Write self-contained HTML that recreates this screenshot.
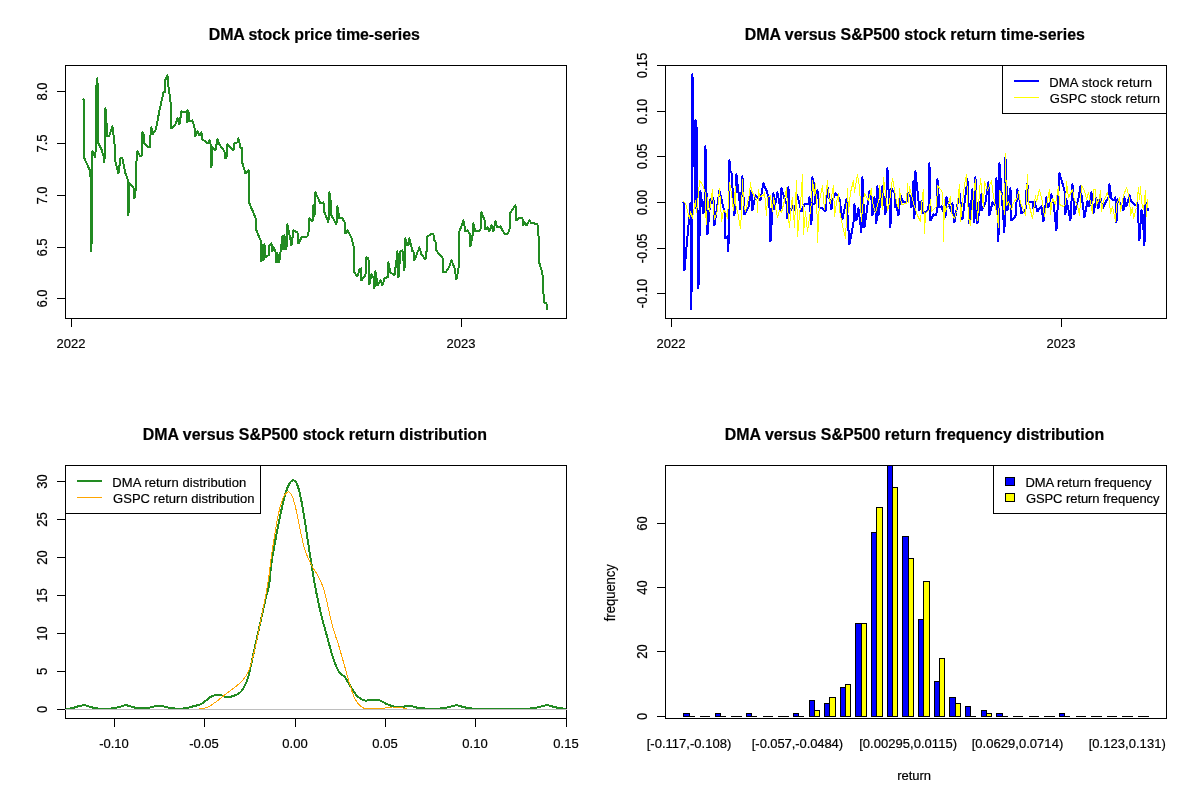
<!DOCTYPE html>
<html><head><meta charset="utf-8"><title>DMA versus S&amp;P500</title>
<style>
html,body{margin:0;padding:0;background:#fff;}
svg{display:block;font-family:"Liberation Sans",sans-serif;}
svg line, svg rect, svg polyline{shape-rendering:crispEdges;}
svg text{fill:#000;stroke:#000;stroke-width:0.2px;}
</style></head><body>
<svg width="1200" height="800" viewBox="0 0 1200 800">
<rect x="0" y="0" width="1200" height="800" fill="#fff" stroke="none"/>
<g id="p1">
<text x="208.7" y="39.5" text-anchor="start" font-size="15.94" font-weight="bold" textLength="211.14" lengthAdjust="spacing">DMA stock price time-series</text>
<polyline fill="none" stroke="#228B22" stroke-width="2" stroke-linejoin="round" stroke-linecap="round" points="83.45,99.45 84.45,100.45 84.45,158.45 89.45,169.45 90.45,171.45 91.45,251.45 92.45,151.45 95.45,157.45 96.45,85.45 97.45,78.45 98.45,143.45 101.45,149.45 103.45,155.45 104.45,162.45 105.45,112.45 105.45,108.45 107.45,136.45 109.45,135.45 112.45,126.45 114.45,142.45 115.45,161.45 118.45,173.45 120.45,158.45 122.45,158.45 125.45,173.45 127.45,178.45 128.45,189.45 128.45,215.45 129.45,183.45 133.45,187.45 134.45,198.45 136.45,184.45 136.45,161.45 137.45,151.45 140.45,156.45 142.45,154.45 142.45,132.45 143.45,133.45 144.45,143.45 148.45,147.45 150.45,147.45 150.45,135.45 151.45,127.45 152.45,134.45 155.45,130.45 157.45,121.45 159.45,110.45 163.45,92.45 165.45,91.45 165.45,79.45 167.45,75.45 168.45,86.45 170.45,100.45 171.45,128.45 175.45,124.45 177.45,118.45 179.45,124.45 181.45,111.45 184.45,112.45 187.45,110.45 187.45,122.45 188.45,111.45 189.45,121.45 192.45,120.45 194.45,127.45 195.45,136.45 197.45,131.45 199.45,135.45 201.45,132.45 202.45,139.45 206.45,142.45 207.45,143.45 209.45,140.45 211.45,146.45 211.45,167.45 212.45,147.45 215.45,150.45 217.45,139.45 219.45,144.45 224.45,151.45 225.45,158.45 226.45,157.45 227.45,144.45 230.45,147.45 233.45,150.45 234.45,143.45 237.45,142.45 238.45,138.45 240.45,147.45 242.45,148.45 242.45,163.45 245.45,173.45 248.45,170.45 249.45,173.45 249.45,203.45 255.45,217.45 256.45,230.45 261.45,242.45 261.45,261.45 262.45,245.45 263.45,260.45 264.45,244.45 265.45,257.45 269.45,254.45 269.45,245.45 271.45,243.45 272.45,251.45 273.45,247.45 275.45,251.45 276.45,262.45 277.45,253.45 278.45,262.45 279.45,260.45 280.45,252.45 282.45,236.45 283.45,249.45 284.45,235.45 285.45,249.45 286.45,248.45 287.45,224.45 289.45,234.45 291.45,245.45 293.45,230.45 297.45,232.45 298.45,243.45 301.45,237.45 307.45,236.45 308.45,233.45 309.45,218.45 312.45,221.45 313.45,205.45 314.45,216.45 315.45,192.45 320.45,203.45 323.45,202.45 324.45,212.45 328.45,222.45 329.45,192.45 331.45,207.45 331.45,215.45 336.45,224.45 337.45,206.45 339.45,218.45 342.45,218.45 345.45,223.45 345.45,233.45 347.45,230.45 351.45,237.45 353.45,245.45 354.45,257.45 354.45,272.45 357.45,276.45 359.45,269.45 361.45,268.45 361.45,280.45 365.45,275.45 366.45,257.45 368.45,258.45 369.45,284.45 371.45,274.45 373.45,277.45 374.45,288.45 375.45,271.45 377.45,284.45 377.45,285.45 380.45,280.45 382.45,285.45 384.45,278.45 388.45,276.45 388.45,262.45 390.45,272.45 394.45,275.45 396.45,260.45 397.45,251.45 398.45,277.45 400.45,251.45 402.45,250.45 404.45,270.45 405.45,238.45 407.45,245.45 409.45,243.45 409.45,238.45 412.45,251.45 413.45,251.45 414.45,260.45 417.45,252.45 419.45,247.45 421.45,254.45 425.45,259.45 426.45,252.45 427.45,236.45 430.45,234.45 433.45,234.45 434.45,240.45 436.45,243.45 436.45,250.45 439.45,254.45 442.45,257.45 443.45,272.45 445.45,272.45 449.45,266.45 451.45,260.45 454.45,267.45 456.45,279.45 458.45,269.45 459.45,252.45 459.45,231.45 463.45,220.45 465.45,231.45 467.45,230.45 470.45,234.45 470.45,246.45 472.45,236.45 473.45,223.45 475.45,231.45 480.45,230.45 481.45,212.45 484.45,219.45 485.45,229.45 487.45,227.45 489.45,231.45 491.45,225.45 493.45,231.45 495.45,221.45 497.45,227.45 500.45,226.45 502.45,230.45 505.45,234.45 507.45,233.45 509.45,230.45 510.45,212.45 515.45,205.45 516.45,220.45 518.45,218.45 522.45,218.45 523.45,225.45 524.45,222.45 526.45,225.45 529.45,220.45 531.45,223.45 534.45,223.45 537.45,224.45 538.45,234.45 539.45,263.45 542.45,273.45 543.45,293.45 544.45,302.45 546.45,303.45 547.45,309.45"/>
<rect x="65.5" y="65.5" width="501" height="253" fill="none" stroke="#000"/>
<line x1="65.5" y1="91.5" x2="65.5" y2="298.5" stroke="#000" stroke-width="1"/>
<line x1="57.0" y1="91.5" x2="65.5" y2="91.5" stroke="#000" stroke-width="1"/>
<text x="47" y="91.5" text-anchor="middle" font-size="14.8" transform="rotate(-90 47 91.5)" textLength="18.07" lengthAdjust="spacingAndGlyphs">8.0</text>
<line x1="57.0" y1="143.5" x2="65.5" y2="143.5" stroke="#000" stroke-width="1"/>
<text x="47" y="143.5" text-anchor="middle" font-size="14.8" transform="rotate(-90 47 143.5)" textLength="18.07" lengthAdjust="spacingAndGlyphs">7.5</text>
<line x1="57.0" y1="195.5" x2="65.5" y2="195.5" stroke="#000" stroke-width="1"/>
<text x="47" y="195.5" text-anchor="middle" font-size="14.8" transform="rotate(-90 47 195.5)" textLength="18.07" lengthAdjust="spacingAndGlyphs">7.0</text>
<line x1="57.0" y1="247.5" x2="65.5" y2="247.5" stroke="#000" stroke-width="1"/>
<text x="47" y="247.5" text-anchor="middle" font-size="14.8" transform="rotate(-90 47 247.5)" textLength="18.07" lengthAdjust="spacingAndGlyphs">6.5</text>
<line x1="57.0" y1="298.5" x2="65.5" y2="298.5" stroke="#000" stroke-width="1"/>
<text x="47" y="298.5" text-anchor="middle" font-size="14.8" transform="rotate(-90 47 298.5)" textLength="18.07" lengthAdjust="spacingAndGlyphs">6.0</text>
<line x1="71.5" y1="318.5" x2="461.5" y2="318.5" stroke="#000" stroke-width="1"/>
<line x1="71.5" y1="318.5" x2="71.5" y2="327.0" stroke="#000" stroke-width="1"/>
<text x="71.0" y="348" text-anchor="middle" font-size="13">2022</text>
<line x1="461.5" y1="318.5" x2="461.5" y2="327.0" stroke="#000" stroke-width="1"/>
<text x="461.0" y="348" text-anchor="middle" font-size="13">2023</text>
</g>
<g id="p2">
<text x="744.67" y="39.5" text-anchor="start" font-size="15.94" font-weight="bold" textLength="340.2" lengthAdjust="spacing">DMA versus S&amp;P500 stock return time-series</text>
<polyline fill="none" stroke="#0000FF" stroke-width="2" stroke-linejoin="round" stroke-linecap="round" points="683.45,202.45 684.45,203.45 684.45,270.45 690.45,203.45 691.45,309.45 692.45,74.45 695.45,208.45 695.45,120.45 696.45,121.45 698.45,288.45 700.45,191.45 703.45,213.45 705.45,190.45 705.45,146.45 707.45,234.45 710.45,199.45 712.45,203.45 713.45,198.45 714.45,225.45 719.45,190.45 722.45,203.45 725.45,215.45 725.45,238.45 727.45,236.45 728.45,251.45 729.45,160.45 730.45,172.45 731.45,172.45 734.45,215.45 736.45,174.45 740.45,209.45 742.45,176.45 744.45,214.45 748.45,207.45 751.45,190.45 752.45,210.45 755.45,195.45 758.45,198.45 760.45,200.45 762.45,188.45 763.45,183.45 766.45,190.45 768.45,196.45 769.45,205.45 770.45,241.45 773.45,193.45 774.45,209.45 777.45,192.45 779.45,203.45 780.45,210.45 781.45,188.45 784.45,198.45 786.45,203.45 787.45,218.45 788.45,187.45 789.45,213.45 792.45,206.45 794.45,210.45 797.45,195.45 801.45,211.45 804.45,204.45 808.45,204.45 809.45,197.45 811.45,224.45 812.45,177.45 815.45,189.45 814.45,204.45 817.45,190.45 819.45,207.45 822.45,208.45 825.45,211.45 827.45,186.45 829.45,198.45 831.45,209.45 832.45,200.45 835.45,193.45 839.45,198.45 842.45,219.45 846.45,199.45 849.45,244.45 853.45,223.45 854.45,204.45 856.45,220.45 858.45,208.45 861.45,232.45 862.45,177.45 864.45,227.45 869.45,191.45 871.45,198.45 872.45,215.45 874.45,197.45 876.45,223.45 877.45,186.45 878.45,215.45 882.45,186.45 885.45,214.45 887.45,168.45 890.45,227.45 891.45,188.45 894.45,192.45 895.45,207.45 896.45,205.45 898.45,215.45 900.45,195.45 903.45,202.45 906.45,202.45 908.45,193.45 911.45,197.45 911.45,207.45 913.45,181.45 914.45,218.45 915.45,171.45 918.45,200.45 919.45,210.45 921.45,201.45 923.45,213.45 928.45,209.45 929.45,163.45 930.45,220.45 933.45,214.45 936.45,215.45 937.45,179.45 939.45,207.45 941.45,206.45 945.45,217.45 946.45,197.45 949.45,206.45 951.45,211.45 952.45,203.45 954.45,222.45 959.45,192.45 962.45,219.45 967.45,179.45 969.45,223.45 972.45,189.45 974.45,222.45 975.45,177.45 977.45,223.45 981.45,194.45 981.45,210.45 985.45,202.45 988.45,182.45 989.45,215.45 992.45,202.45 995.45,205.45 996.45,178.45 998.45,241.45 999.45,163.45 1004.45,232.45 1005.45,157.45 1007.45,210.45 1010.45,188.45 1011.45,220.45 1015.45,216.45 1017.45,189.45 1019.45,199.45 1021.45,213.45 1025.45,210.45 1026.45,190.45 1027.45,183.45 1028.45,201.45 1032.45,202.45 1033.45,208.45 1034.45,201.45 1037.45,211.45 1041.45,206.45 1043.45,221.45 1046.45,197.45 1048.45,207.45 1051.45,194.45 1053.45,202.45 1056.45,230.45 1059.45,173.45 1062.45,183.45 1064.45,189.45 1065.45,214.45 1066.45,199.45 1070.45,220.45 1072.45,184.45 1074.45,214.45 1078.45,198.45 1080.45,186.45 1084.45,217.45 1087.45,201.45 1089.45,206.45 1091.45,192.45 1093.45,213.45 1096.45,198.45 1098.45,208.45 1100.45,197.45 1102.45,208.45 1106.45,200.45 1108.45,198.45 1109.45,184.45 1111.45,198.45 1113.45,200.45 1115.45,197.45 1116.45,222.45 1117.45,199.45 1121.45,205.45 1123.45,210.45 1124.45,197.45 1126.45,206.45 1129.45,195.45 1131.45,201.45 1135.45,205.45 1137.45,202.45 1139.45,240.45 1141.45,210.45 1142.45,213.45 1144.45,245.45 1145.45,202.45 1148.45,210.45"/>
<polyline fill="none" stroke="#FFFF00" stroke-width="1" stroke-linejoin="round" points="683.5,201.5 685.5,203.5 689.5,218.5 690.5,211.5 692.5,218.5 694.5,206.5 695.5,200.5 696.5,212.5 698.5,193.5 699.5,180.5 702.5,184.5 705.5,193.5 705.5,210.5 706.5,224.5 707.5,197.5 709.5,211.5 711.5,197.5 712.5,189.5 713.5,209.5 714.5,219.5 717.5,210.5 719.5,188.5 720.5,202.5 721.5,221.5 723.5,210.5 725.5,211.5 727.5,218.5 728.5,200.5 729.5,182.5 731.5,193.5 732.5,202.5 733.5,210.5 735.5,186.5 735.5,204.5 737.5,211.5 740.5,228.5 741.5,211.5 742.5,179.5 743.5,204.5 745.5,211.5 749.5,193.5 750.5,182.5 751.5,190.5 754.5,196.5 757.5,201.5 757.5,212.5 758.5,189.5 759.5,196.5 763.5,195.5 764.5,192.5 766.5,215.5 767.5,197.5 770.5,195.5 772.5,211.5 773.5,197.5 777.5,217.5 779.5,210.5 781.5,212.5 784.5,200.5 786.5,187.5 787.5,207.5 789.5,227.5 791.5,202.5 792.5,197.5 794.5,227.5 796.5,180.5 797.5,236.5 800.5,204.5 802.5,174.5 803.5,234.5 805.5,211.5 807.5,231.5 809.5,217.5 811.5,202.5 812.5,180.5 814.5,195.5 815.5,183.5 817.5,223.5 817.5,242.5 819.5,200.5 822.5,185.5 824.5,209.5 827.5,180.5 828.5,196.5 830.5,203.5 833.5,185.5 834.5,216.5 836.5,202.5 838.5,193.5 839.5,210.5 842.5,225.5 845.5,238.5 846.5,217.5 847.5,188.5 848.5,212.5 850.5,192.5 853.5,180.5 854.5,192.5 857.5,174.5 859.5,187.5 861.5,221.5 862.5,207.5 864.5,193.5 865.5,195.5 868.5,200.5 871.5,188.5 872.5,202.5 875.5,212.5 879.5,197.5 879.5,185.5 882.5,209.5 883.5,177.5 885.5,193.5 887.5,210.5 889.5,202.5 892.5,178.5 894.5,189.5 896.5,202.5 898.5,208.5 899.5,188.5 901.5,204.5 906.5,203.5 907.5,183.5 908.5,202.5 909.5,186.5 911.5,195.5 914.5,206.5 917.5,215.5 920.5,221.5 922.5,194.5 923.5,189.5 924.5,233.5 925.5,213.5 929.5,209.5 930.5,199.5 931.5,211.5 936.5,206.5 937.5,185.5 940.5,189.5 942.5,192.5 943.5,217.5 943.5,241.5 944.5,199.5 945.5,211.5 948.5,204.5 950.5,196.5 951.5,213.5 954.5,218.5 956.5,211.5 959.5,184.5 960.5,221.5 963.5,193.5 964.5,184.5 966.5,174.5 968.5,217.5 970.5,225.5 973.5,194.5 975.5,179.5 977.5,220.5 980.5,178.5 983.5,207.5 984.5,181.5 987.5,190.5 991.5,180.5 993.5,196.5 997.5,217.5 998.5,227.5 999.5,190.5 1002.5,195.5 1004.5,214.5 1005.5,153.5 1006.5,205.5 1008.5,201.5 1011.5,209.5 1013.5,202.5 1017.5,197.5 1018.5,191.5 1020.5,202.5 1025.5,215.5 1027.5,174.5 1028.5,202.5 1032.5,218.5 1035.5,195.5 1036.5,201.5 1039.5,189.5 1042.5,202.5 1044.5,216.5 1049.5,189.5 1050.5,214.5 1052.5,198.5 1055.5,204.5 1058.5,186.5 1059.5,204.5 1063.5,206.5 1065.5,204.5 1066.5,181.5 1068.5,197.5 1070.5,193.5 1072.5,189.5 1074.5,200.5 1077.5,205.5 1079.5,215.5 1081.5,185.5 1084.5,190.5 1086.5,199.5 1088.5,192.5 1090.5,202.5 1092.5,213.5 1093.5,189.5 1095.5,189.5 1096.5,205.5 1099.5,197.5 1100.5,190.5 1101.5,211.5 1103.5,201.5 1107.5,192.5 1109.5,202.5 1110.5,213.5 1112.5,206.5 1115.5,221.5 1116.5,204.5 1119.5,197.5 1120.5,211.5 1123.5,195.5 1126.5,187.5 1129.5,198.5 1130.5,215.5 1132.5,207.5 1133.5,218.5 1136.5,207.5 1138.5,187.5 1139.5,199.5 1140.5,186.5 1141.5,202.5 1143.5,209.5 1145.5,190.5 1146.5,216.5 1147.5,199.5"/>
<rect x="665.5" y="65.5" width="501" height="253" fill="none" stroke="#000"/>
<line x1="665.5" y1="65.5" x2="665.5" y2="293.5" stroke="#000" stroke-width="1"/>
<line x1="657.0" y1="65.5" x2="665.5" y2="65.5" stroke="#000" stroke-width="1"/>
<text x="647" y="65.5" text-anchor="middle" font-size="14.8" transform="rotate(-90 647 65.5)" textLength="25.3" lengthAdjust="spacingAndGlyphs">0.15</text>
<line x1="657.0" y1="111.5" x2="665.5" y2="111.5" stroke="#000" stroke-width="1"/>
<text x="647" y="111.5" text-anchor="middle" font-size="14.8" transform="rotate(-90 647 111.5)" textLength="25.3" lengthAdjust="spacingAndGlyphs">0.10</text>
<line x1="657.0" y1="156.5" x2="665.5" y2="156.5" stroke="#000" stroke-width="1"/>
<text x="647" y="156.5" text-anchor="middle" font-size="14.8" transform="rotate(-90 647 156.5)" textLength="25.3" lengthAdjust="spacingAndGlyphs">0.05</text>
<line x1="657.0" y1="202.5" x2="665.5" y2="202.5" stroke="#000" stroke-width="1"/>
<text x="647" y="202.5" text-anchor="middle" font-size="14.8" transform="rotate(-90 647 202.5)" textLength="25.3" lengthAdjust="spacingAndGlyphs">0.00</text>
<line x1="657.0" y1="248.5" x2="665.5" y2="248.5" stroke="#000" stroke-width="1"/>
<text x="647" y="248.5" text-anchor="middle" font-size="14.8" transform="rotate(-90 647 248.5)" textLength="29.63" lengthAdjust="spacingAndGlyphs">-0.05</text>
<line x1="657.0" y1="293.5" x2="665.5" y2="293.5" stroke="#000" stroke-width="1"/>
<text x="647" y="293.5" text-anchor="middle" font-size="14.8" transform="rotate(-90 647 293.5)" textLength="29.63" lengthAdjust="spacingAndGlyphs">-0.10</text>
<line x1="671.5" y1="318.5" x2="1061.5" y2="318.5" stroke="#000" stroke-width="1"/>
<line x1="671.5" y1="318.5" x2="671.5" y2="327.0" stroke="#000" stroke-width="1"/>
<text x="671.0" y="348" text-anchor="middle" font-size="13">2022</text>
<line x1="1061.5" y1="318.5" x2="1061.5" y2="327.0" stroke="#000" stroke-width="1"/>
<text x="1061.0" y="348" text-anchor="middle" font-size="13">2023</text>
<rect x="1002.5" y="65.5" width="164" height="48" fill="#fff" stroke="#000"/>
<line x1="1014" y1="81" x2="1039" y2="81" stroke="#0000FF" stroke-width="2"/>
<line x1="1014" y1="97.5" x2="1039" y2="97.5" stroke="#FFFF00" stroke-width="1"/>
<text x="1049.25" y="87" text-anchor="start" font-size="13" textLength="102.7" lengthAdjust="spacing">DMA stock return</text>
<text x="1049.75" y="103" text-anchor="start" font-size="13" textLength="110.28" lengthAdjust="spacing">GSPC stock return</text>
</g>
<g id="p3">
<text x="142.69" y="439.5" text-anchor="start" font-size="15.94" font-weight="bold" textLength="344.42" lengthAdjust="spacing">DMA versus S&amp;P500 stock return distribution</text>
<polyline fill="none" stroke="#228B22" stroke-width="2" stroke-linejoin="round" stroke-linecap="round" points="65.5,708.9 66.5,708.88 67.5,708.82 68.5,708.72 69.5,708.61 70.5,708.47 71.5,708.33 72.5,708.15 73.5,707.87 74.5,707.54 75.5,707.18 76.5,706.82 77.5,706.5 78.5,706.26 79.5,706.03 80.5,705.8 81.5,705.59 82.5,705.43 83.5,705.32 84.5,705.31 85.5,705.42 86.5,705.64 87.5,705.94 88.5,706.26 89.5,706.56 90.5,706.84 91.5,707.15 92.5,707.49 93.5,707.81 94.5,708.08 95.5,708.27 96.5,708.37 97.5,708.45 98.5,708.53 99.5,708.6 100.5,708.67 101.5,708.72 102.5,708.76 103.5,708.78 104.5,708.8 105.5,708.8 106.5,708.78 107.5,708.74 108.5,708.69 109.5,708.63 110.5,708.55 111.5,708.47 112.5,708.38 113.5,708.28 114.5,708.13 115.5,707.91 116.5,707.66 117.5,707.38 118.5,707.1 119.5,706.82 120.5,706.57 121.5,706.27 122.5,705.95 123.5,705.65 124.5,705.43 125.5,705.31 126.5,705.34 127.5,705.5 128.5,705.75 129.5,706.05 130.5,706.37 131.5,706.65 132.5,706.91 133.5,707.22 134.5,707.54 135.5,707.84 136.5,708.09 137.5,708.26 138.5,708.3 139.5,708.3 140.5,708.3 141.5,708.3 142.5,708.3 143.5,708.3 144.5,708.3 145.5,708.29 146.5,708.21 147.5,708.07 148.5,707.88 149.5,707.67 150.5,707.45 151.5,707.24 152.5,707.02 153.5,706.76 154.5,706.46 155.5,706.16 156.5,705.88 157.5,705.67 158.5,705.53 159.5,705.51 160.5,705.61 161.5,705.8 162.5,706.07 163.5,706.36 164.5,706.66 165.5,706.93 166.5,707.17 167.5,707.43 168.5,707.69 169.5,707.94 170.5,708.14 171.5,708.28 172.5,708.36 173.5,708.44 174.5,708.51 175.5,708.57 176.5,708.62 177.5,708.66 178.5,708.68 179.5,708.7 180.5,708.69 181.5,708.65 182.5,708.57 183.5,708.46 184.5,708.32 185.5,708.18 186.5,708.03 187.5,707.86 188.5,707.64 189.5,707.39 190.5,707.11 191.5,706.81 192.5,706.52 193.5,706.25 194.5,705.99 195.5,705.76 196.5,705.52 197.5,705.27 198.5,704.99 199.5,704.68 200.5,704.32 201.5,703.87 202.5,703.26 203.5,702.53 204.5,701.73 205.5,700.92 206.5,700.15 207.5,699.38 208.5,698.53 209.5,697.69 210.5,696.94 211.5,696.38 212.5,695.99 213.5,695.63 214.5,695.32 215.5,695.1 216.5,695.0 217.5,695.02 218.5,695.07 219.5,695.16 220.5,695.27 221.5,695.43 222.5,695.76 223.5,696.15 224.5,696.49 225.5,696.69 226.5,696.7 227.5,696.7 228.5,696.7 229.5,696.7 230.5,696.68 231.5,696.52 232.5,696.23 233.5,695.88 234.5,695.49 235.5,695.11 236.5,694.67 237.5,694.17 238.5,693.57 239.5,692.89 240.5,692.05 241.5,690.92 242.5,689.53 243.5,687.98 244.5,686.22 245.5,684.19 246.5,681.87 247.5,679.2 248.5,675.82 249.5,671.69 250.5,667.3 251.5,662.92 252.5,658.31 253.5,653.59 254.5,648.94 255.5,644.35 256.5,639.77 257.5,635.21 258.5,630.7 259.5,626.26 260.5,621.84 261.5,617.39 262.5,612.89 263.5,608.33 264.5,603.76 265.5,599.2 266.5,595.17 267.5,591.7 268.5,587.64 269.5,581.85 270.5,570.63 271.5,562.54 272.5,556.09 273.5,550.56 274.5,545.28 275.5,539.67 276.5,534.2 277.5,528.96 278.5,523.92 279.5,519.05 280.5,514.3 281.5,509.61 282.5,505.11 283.5,500.91 284.5,497.14 285.5,493.66 286.5,490.43 287.5,487.64 288.5,485.41 289.5,483.48 290.5,482.0 291.5,481.09 292.5,480.42 293.5,480.28 294.5,480.72 295.5,481.51 296.5,482.96 297.5,485.45 298.5,488.41 299.5,492.13 300.5,496.67 301.5,501.54 302.5,506.87 303.5,512.66 304.5,518.71 305.5,525.19 306.5,531.92 307.5,538.63 308.5,545.14 309.5,551.6 310.5,558.01 311.5,564.37 312.5,570.76 313.5,577.04 314.5,582.84 315.5,588.29 316.5,593.46 317.5,598.34 318.5,602.99 319.5,607.46 320.5,611.75 321.5,615.89 322.5,619.87 323.5,623.67 324.5,627.34 325.5,630.93 326.5,634.5 327.5,638.1 328.5,641.8 329.5,645.55 330.5,649.23 331.5,652.73 332.5,655.93 333.5,658.94 334.5,661.77 335.5,664.35 336.5,666.69 337.5,668.95 338.5,670.97 339.5,672.55 340.5,673.61 341.5,674.39 342.5,675.05 343.5,675.77 344.5,676.71 345.5,678.0 346.5,679.55 347.5,681.21 348.5,682.86 349.5,684.61 350.5,686.4 351.5,688.11 352.5,689.68 353.5,691.22 354.5,692.69 355.5,694.03 356.5,695.2 357.5,696.21 358.5,697.16 359.5,698.0 360.5,698.7 361.5,699.22 362.5,699.68 363.5,700.09 364.5,700.41 365.5,700.58 366.5,700.58 367.5,700.47 368.5,700.31 369.5,700.14 370.5,700.01 371.5,699.91 372.5,699.82 373.5,699.73 374.5,699.66 375.5,699.61 376.5,699.61 377.5,699.74 378.5,700.01 379.5,700.36 380.5,700.75 381.5,701.15 382.5,701.69 383.5,702.3 384.5,702.91 385.5,703.45 386.5,703.92 387.5,704.36 388.5,704.77 389.5,705.13 390.5,705.46 391.5,705.81 392.5,706.15 393.5,706.46 394.5,706.72 395.5,706.91 396.5,707.0 397.5,706.99 398.5,706.97 399.5,706.94 400.5,706.89 401.5,706.83 402.5,706.76 403.5,706.68 404.5,706.51 405.5,706.26 406.5,705.97 407.5,705.72 408.5,705.54 409.5,705.51 410.5,705.67 411.5,705.97 412.5,706.35 413.5,706.74 414.5,707.08 415.5,707.31 416.5,707.51 417.5,707.71 418.5,707.89 419.5,708.05 420.5,708.18 421.5,708.28 422.5,708.36 423.5,708.44 424.5,708.51 425.5,708.57 426.5,708.63 427.5,708.68 428.5,708.73 429.5,708.76 430.5,708.79 431.5,708.8 432.5,708.8 433.5,708.79 434.5,708.77 435.5,708.75 436.5,708.71 437.5,708.67 438.5,708.62 439.5,708.56 440.5,708.5 441.5,708.43 442.5,708.36 443.5,708.28 444.5,708.14 445.5,707.93 446.5,707.66 447.5,707.37 448.5,707.09 449.5,706.82 450.5,706.58 451.5,706.32 452.5,706.04 453.5,705.78 454.5,705.55 455.5,705.38 456.5,705.3 457.5,705.35 458.5,705.53 459.5,705.81 460.5,706.14 461.5,706.48 462.5,706.79 463.5,707.04 464.5,707.27 465.5,707.5 466.5,707.72 467.5,707.93 468.5,708.11 469.5,708.25 470.5,708.35 471.5,708.44 472.5,708.53 473.5,708.61 474.5,708.68 475.5,708.75 476.5,708.81 477.5,708.85 478.5,708.88 479.5,708.9 480.5,708.9 481.5,708.9 482.5,708.9 483.5,708.9 484.5,708.9 485.5,708.9 486.5,708.9 487.5,708.9 488.5,708.9 489.5,708.9 490.5,708.9 491.5,708.9 492.5,708.9 493.5,708.9 494.5,708.9 495.5,708.9 496.5,708.9 497.5,708.9 498.5,708.9 499.5,708.9 500.5,708.9 501.5,708.9 502.5,708.9 503.5,708.9 504.5,708.9 505.5,708.9 506.5,708.9 507.5,708.9 508.5,708.9 509.5,708.9 510.5,708.9 511.5,708.9 512.5,708.9 513.5,708.9 514.5,708.9 515.5,708.9 516.5,708.9 517.5,708.9 518.5,708.9 519.5,708.9 520.5,708.9 521.5,708.89 522.5,708.88 523.5,708.85 524.5,708.82 525.5,708.79 526.5,708.74 527.5,708.69 528.5,708.64 529.5,708.58 530.5,708.51 531.5,708.44 532.5,708.36 533.5,708.28 534.5,708.14 535.5,707.92 536.5,707.65 537.5,707.36 538.5,707.07 539.5,706.81 540.5,706.59 541.5,706.35 542.5,706.1 543.5,705.86 544.5,705.64 545.5,705.46 546.5,705.34 547.5,705.3 548.5,705.37 549.5,705.57 550.5,705.85 551.5,706.18 552.5,706.52 553.5,706.82 554.5,707.07 555.5,707.29 556.5,707.52 557.5,707.73 558.5,707.93 559.5,708.11 560.5,708.26 561.5,708.38 562.5,708.49 563.5,708.6 564.5,708.68 565.5,708.75 566.5,708.8"/>
<rect x="65.5" y="465.5" width="501" height="253" fill="none" stroke="#000"/>
<line x1="65.5" y1="481.5" x2="65.5" y2="709.5" stroke="#000" stroke-width="1"/>
<line x1="57.0" y1="709.5" x2="65.5" y2="709.5" stroke="#000" stroke-width="1"/>
<text x="47" y="709.5" text-anchor="middle" font-size="14.8" transform="rotate(-90 47 709.5)" textLength="7.23" lengthAdjust="spacingAndGlyphs">0</text>
<line x1="57.0" y1="671.5" x2="65.5" y2="671.5" stroke="#000" stroke-width="1"/>
<text x="47" y="671.5" text-anchor="middle" font-size="14.8" transform="rotate(-90 47 671.5)" textLength="7.23" lengthAdjust="spacingAndGlyphs">5</text>
<line x1="57.0" y1="633.5" x2="65.5" y2="633.5" stroke="#000" stroke-width="1"/>
<text x="47" y="633.5" text-anchor="middle" font-size="14.8" transform="rotate(-90 47 633.5)" textLength="14.46" lengthAdjust="spacingAndGlyphs">10</text>
<line x1="57.0" y1="595.5" x2="65.5" y2="595.5" stroke="#000" stroke-width="1"/>
<text x="47" y="595.5" text-anchor="middle" font-size="14.8" transform="rotate(-90 47 595.5)" textLength="14.46" lengthAdjust="spacingAndGlyphs">15</text>
<line x1="57.0" y1="557.5" x2="65.5" y2="557.5" stroke="#000" stroke-width="1"/>
<text x="47" y="557.5" text-anchor="middle" font-size="14.8" transform="rotate(-90 47 557.5)" textLength="14.46" lengthAdjust="spacingAndGlyphs">20</text>
<line x1="57.0" y1="519.5" x2="65.5" y2="519.5" stroke="#000" stroke-width="1"/>
<text x="47" y="519.5" text-anchor="middle" font-size="14.8" transform="rotate(-90 47 519.5)" textLength="14.46" lengthAdjust="spacingAndGlyphs">25</text>
<line x1="57.0" y1="481.5" x2="65.5" y2="481.5" stroke="#000" stroke-width="1"/>
<text x="47" y="481.5" text-anchor="middle" font-size="14.8" transform="rotate(-90 47 481.5)" textLength="14.46" lengthAdjust="spacingAndGlyphs">30</text>
<line x1="114.5" y1="718.5" x2="566.5" y2="718.5" stroke="#000" stroke-width="1"/>
<line x1="114.5" y1="718.5" x2="114.5" y2="727.0" stroke="#000" stroke-width="1"/>
<text x="114.0" y="748" text-anchor="middle" font-size="13">-0.10</text>
<line x1="204.5" y1="718.5" x2="204.5" y2="727.0" stroke="#000" stroke-width="1"/>
<text x="204.0" y="748" text-anchor="middle" font-size="13">-0.05</text>
<line x1="295.5" y1="718.5" x2="295.5" y2="727.0" stroke="#000" stroke-width="1"/>
<text x="295.0" y="748" text-anchor="middle" font-size="13">0.00</text>
<line x1="385.5" y1="718.5" x2="385.5" y2="727.0" stroke="#000" stroke-width="1"/>
<text x="385.0" y="748" text-anchor="middle" font-size="13">0.05</text>
<line x1="475.5" y1="718.5" x2="475.5" y2="727.0" stroke="#000" stroke-width="1"/>
<text x="475.0" y="748" text-anchor="middle" font-size="13">0.10</text>
<line x1="566.5" y1="718.5" x2="566.5" y2="727.0" stroke="#000" stroke-width="1"/>
<text x="566.0" y="748" text-anchor="middle" font-size="13">0.15</text>
<line x1="65" y1="709.5" x2="567" y2="709.5" stroke="#BEBEBE" stroke-width="1"/>
<polyline fill="none" stroke="#FFA500" stroke-width="1" stroke-linejoin="round" points="199.2,708.8 200.2,708.77 201.2,708.68 202.2,708.54 203.2,708.35 204.2,708.14 205.2,707.89 206.2,707.63 207.2,707.35 208.2,706.93 209.2,706.4 210.2,705.79 211.2,705.12 212.2,704.44 213.2,703.77 214.2,703.1 215.2,702.39 216.2,701.65 217.2,700.88 218.2,700.11 219.2,699.32 220.2,698.54 221.2,697.75 222.2,696.95 223.2,696.13 224.2,695.31 225.2,694.49 226.2,693.69 227.2,692.91 228.2,692.15 229.2,691.39 230.2,690.64 231.2,689.9 232.2,689.14 233.2,688.38 234.2,687.62 235.2,686.88 236.2,686.14 237.2,685.38 238.2,684.59 239.2,683.74 240.2,682.81 241.2,681.81 242.2,680.75 243.2,679.6 244.2,678.33 245.2,676.94 246.2,675.4 247.2,673.63 248.2,671.63 249.2,669.35 250.2,666.72 251.2,663.45 252.2,659.72 253.2,655.79 254.2,651.73 255.2,647.38 256.2,642.8 257.2,638.1 258.2,633.21 259.2,628.1 260.2,622.95 261.2,617.91 262.2,613.02 263.2,608.16 264.2,603.18 265.2,598.0 266.2,592.79 267.2,587.32 268.2,581.3 269.2,574.11 270.2,565.81 271.2,557.86 272.2,550.87 273.2,544.25 274.2,537.94 275.2,531.91 276.2,525.93 277.2,520.19 278.2,515.0 279.2,510.6 280.2,506.61 281.2,503.07 282.2,500.14 283.2,497.81 284.2,495.77 285.2,494.17 286.2,493.15 287.2,492.37 288.2,491.93 289.2,492.12 290.2,493.06 291.2,494.48 292.2,496.16 293.2,498.85 294.2,502.3 295.2,505.99 296.2,510.25 297.2,514.86 298.2,519.64 299.2,524.8 300.2,529.97 301.2,534.78 302.2,539.2 303.2,543.45 304.2,547.31 305.2,550.61 306.2,553.4 307.2,555.88 308.2,558.17 309.2,560.39 310.2,562.5 311.2,564.49 312.2,566.36 313.2,568.09 314.2,569.67 315.2,571.17 316.2,572.72 317.2,574.4 318.2,576.24 319.2,578.21 320.2,580.33 321.2,582.6 322.2,585.04 323.2,587.75 324.2,590.88 325.2,594.64 326.2,598.81 327.2,603.12 328.2,607.48 329.2,612.14 330.2,616.78 331.2,621.05 332.2,624.86 333.2,628.42 334.2,631.79 335.2,635.04 336.2,638.05 337.2,640.93 338.2,643.88 339.2,647.08 340.2,650.53 341.2,654.11 342.2,657.69 343.2,661.21 344.2,664.71 345.2,668.22 346.2,671.72 347.2,675.27 348.2,678.84 349.2,682.34 350.2,685.65 351.2,688.93 352.2,692.11 353.2,694.93 354.2,697.22 355.2,699.19 356.2,700.92 357.2,702.4 358.2,703.67 359.2,704.79 360.2,705.76 361.2,706.56 362.2,707.26 363.2,707.9 364.2,708.38 365.2,708.63 366.2,708.77 367.2,708.87 368.2,708.95 369.2,708.99 370.2,709.0 371.2,708.99 372.2,708.96 373.2,708.93 374.2,708.89 375.2,708.85 376.2,708.8 377.2,708.75 378.2,708.69 379.2,708.63 380.2,708.54 381.2,708.44 382.2,708.33 383.2,708.22 384.2,708.1 385.2,707.98 386.2,707.82 387.2,707.64 388.2,707.45 389.2,707.27 390.2,707.12 391.2,707.03 392.2,707.0 393.2,707.02 394.2,707.05 395.2,707.11 396.2,707.17 397.2,707.24 398.2,707.32 399.2,707.42 400.2,707.55 401.2,707.71 402.2,707.87 403.2,708.03 404.2,708.2 405.2,708.37 406.2,708.55 407.2,708.74"/>
<rect x="65.5" y="465.5" width="195" height="48" fill="#fff" stroke="#000"/>
<line x1="77" y1="481" x2="102" y2="481" stroke="#228B22" stroke-width="2"/>
<line x1="77" y1="497.5" x2="102" y2="497.5" stroke="#FFA500" stroke-width="1"/>
<text x="112.3" y="487" text-anchor="start" font-size="13" textLength="133.88" lengthAdjust="spacing">DMA return distribution</text>
<text x="113.05" y="503" text-anchor="start" font-size="13" textLength="141.41" lengthAdjust="spacing">GSPC return distribution</text>
</g>
<g id="p4">
<text x="724.67" y="439.5" text-anchor="start" font-size="15.94" font-weight="bold" textLength="379.47" lengthAdjust="spacing">DMA versus S&amp;P500 return frequency distribution</text>
<clipPath id="c4"><rect x="600" y="465" width="600" height="335"/></clipPath>
<g clip-path="url(#c4)">
<rect x="683.5" y="713.5" width="6.0" height="3.0" fill="#0000FF" stroke="#000"/>
<line x1="689.5" y1="716.5" x2="694.5" y2="716.5" stroke="#000" stroke-width="1"/>
<line x1="699.5" y1="716.5" x2="704.5" y2="716.5" stroke="#000" stroke-width="1"/>
<line x1="704.5" y1="716.5" x2="709.5" y2="716.5" stroke="#000" stroke-width="1"/>
<rect x="715.5" y="713.5" width="5.0" height="3.0" fill="#0000FF" stroke="#000"/>
<line x1="720.5" y1="716.5" x2="725.5" y2="716.5" stroke="#000" stroke-width="1"/>
<line x1="730.5" y1="716.5" x2="736.5" y2="716.5" stroke="#000" stroke-width="1"/>
<line x1="736.5" y1="716.5" x2="741.5" y2="716.5" stroke="#000" stroke-width="1"/>
<rect x="746.5" y="713.5" width="5.0" height="3.0" fill="#0000FF" stroke="#000"/>
<line x1="751.5" y1="716.5" x2="756.5" y2="716.5" stroke="#000" stroke-width="1"/>
<line x1="762.5" y1="716.5" x2="767.5" y2="716.5" stroke="#000" stroke-width="1"/>
<line x1="767.5" y1="716.5" x2="772.5" y2="716.5" stroke="#000" stroke-width="1"/>
<line x1="777.5" y1="716.5" x2="782.5" y2="716.5" stroke="#000" stroke-width="1"/>
<line x1="782.5" y1="716.5" x2="788.5" y2="716.5" stroke="#000" stroke-width="1"/>
<rect x="793.5" y="713.5" width="5.0" height="3.0" fill="#0000FF" stroke="#000"/>
<line x1="798.5" y1="716.5" x2="803.5" y2="716.5" stroke="#000" stroke-width="1"/>
<rect x="809.5" y="700.5" width="5.0" height="16.0" fill="#0000FF" stroke="#000"/>
<rect x="814.5" y="710.5" width="5.0" height="6.0" fill="#FFFF00" stroke="#000"/>
<rect x="824.5" y="703.5" width="5.0" height="13.0" fill="#0000FF" stroke="#000"/>
<rect x="829.5" y="697.5" width="6.0" height="19.0" fill="#FFFF00" stroke="#000"/>
<rect x="840.5" y="687.5" width="5.0" height="29.0" fill="#0000FF" stroke="#000"/>
<rect x="845.5" y="684.5" width="5.0" height="32.0" fill="#FFFF00" stroke="#000"/>
<rect x="855.5" y="623.5" width="6.0" height="93.0" fill="#0000FF" stroke="#000"/>
<rect x="861.5" y="623.5" width="5.0" height="93.0" fill="#FFFF00" stroke="#000"/>
<rect x="871.5" y="532.5" width="5.0" height="184.0" fill="#0000FF" stroke="#000"/>
<rect x="876.5" y="507.5" width="6.0" height="209.0" fill="#FFFF00" stroke="#000"/>
<rect x="887.5" y="462.5" width="5.0" height="254.0" fill="#0000FF" stroke="#000"/>
<rect x="892.5" y="487.5" width="5.0" height="229.0" fill="#FFFF00" stroke="#000"/>
<rect x="902.5" y="536.5" width="6.0" height="180.0" fill="#0000FF" stroke="#000"/>
<rect x="908.5" y="558.5" width="5.0" height="158.0" fill="#FFFF00" stroke="#000"/>
<rect x="918.5" y="619.5" width="5.0" height="97.0" fill="#0000FF" stroke="#000"/>
<rect x="923.5" y="581.5" width="6.0" height="135.0" fill="#FFFF00" stroke="#000"/>
<rect x="934.5" y="681.5" width="5.0" height="35.0" fill="#0000FF" stroke="#000"/>
<rect x="939.5" y="658.5" width="5.0" height="58.0" fill="#FFFF00" stroke="#000"/>
<rect x="949.5" y="697.5" width="6.0" height="19.0" fill="#0000FF" stroke="#000"/>
<rect x="955.5" y="703.5" width="5.0" height="13.0" fill="#FFFF00" stroke="#000"/>
<rect x="965.5" y="706.5" width="5.0" height="10.0" fill="#0000FF" stroke="#000"/>
<line x1="970.5" y1="716.5" x2="975.5" y2="716.5" stroke="#000" stroke-width="1"/>
<rect x="981.5" y="710.5" width="5.0" height="6.0" fill="#0000FF" stroke="#000"/>
<rect x="986.5" y="713.5" width="5.0" height="3.0" fill="#FFFF00" stroke="#000"/>
<rect x="996.5" y="713.5" width="6.0" height="3.0" fill="#0000FF" stroke="#000"/>
<line x1="1002.5" y1="716.5" x2="1007.5" y2="716.5" stroke="#000" stroke-width="1"/>
<line x1="1012.5" y1="716.5" x2="1017.5" y2="716.5" stroke="#000" stroke-width="1"/>
<line x1="1017.5" y1="716.5" x2="1022.5" y2="716.5" stroke="#000" stroke-width="1"/>
<line x1="1028.5" y1="716.5" x2="1033.5" y2="716.5" stroke="#000" stroke-width="1"/>
<line x1="1033.5" y1="716.5" x2="1038.5" y2="716.5" stroke="#000" stroke-width="1"/>
<line x1="1043.5" y1="716.5" x2="1048.5" y2="716.5" stroke="#000" stroke-width="1"/>
<line x1="1048.5" y1="716.5" x2="1054.5" y2="716.5" stroke="#000" stroke-width="1"/>
<rect x="1059.5" y="713.5" width="5.0" height="3.0" fill="#0000FF" stroke="#000"/>
<line x1="1064.5" y1="716.5" x2="1069.5" y2="716.5" stroke="#000" stroke-width="1"/>
<line x1="1075.5" y1="716.5" x2="1080.5" y2="716.5" stroke="#000" stroke-width="1"/>
<line x1="1080.5" y1="716.5" x2="1085.5" y2="716.5" stroke="#000" stroke-width="1"/>
<line x1="1090.5" y1="716.5" x2="1095.5" y2="716.5" stroke="#000" stroke-width="1"/>
<line x1="1095.5" y1="716.5" x2="1101.5" y2="716.5" stroke="#000" stroke-width="1"/>
<line x1="1106.5" y1="716.5" x2="1111.5" y2="716.5" stroke="#000" stroke-width="1"/>
<line x1="1111.5" y1="716.5" x2="1116.5" y2="716.5" stroke="#000" stroke-width="1"/>
<line x1="1121.5" y1="716.5" x2="1127.5" y2="716.5" stroke="#000" stroke-width="1"/>
<line x1="1127.5" y1="716.5" x2="1132.5" y2="716.5" stroke="#000" stroke-width="1"/>
<line x1="1137.5" y1="716.5" x2="1142.5" y2="716.5" stroke="#000" stroke-width="1"/>
<line x1="1142.5" y1="716.5" x2="1148.5" y2="716.5" stroke="#000" stroke-width="1"/>
</g>
<rect x="665.5" y="465.5" width="501" height="253" fill="none" stroke="#000"/>
<line x1="665.5" y1="523.5" x2="665.5" y2="716.5" stroke="#000" stroke-width="1"/>
<line x1="657.0" y1="716.5" x2="665.5" y2="716.5" stroke="#000" stroke-width="1"/>
<text x="647" y="716.5" text-anchor="middle" font-size="14.8" transform="rotate(-90 647 716.5)" textLength="7.23" lengthAdjust="spacingAndGlyphs">0</text>
<line x1="657.0" y1="651.5" x2="665.5" y2="651.5" stroke="#000" stroke-width="1"/>
<text x="647" y="651.5" text-anchor="middle" font-size="14.8" transform="rotate(-90 647 651.5)" textLength="14.46" lengthAdjust="spacingAndGlyphs">20</text>
<line x1="657.0" y1="587.5" x2="665.5" y2="587.5" stroke="#000" stroke-width="1"/>
<text x="647" y="587.5" text-anchor="middle" font-size="14.8" transform="rotate(-90 647 587.5)" textLength="14.46" lengthAdjust="spacingAndGlyphs">40</text>
<line x1="657.0" y1="523.5" x2="665.5" y2="523.5" stroke="#000" stroke-width="1"/>
<text x="647" y="523.5" text-anchor="middle" font-size="14.8" transform="rotate(-90 647 523.5)" textLength="14.46" lengthAdjust="spacingAndGlyphs">60</text>
<text x="646.69" y="748" text-anchor="start" font-size="13" textLength="84.56" lengthAdjust="spacing">[-0.117,-0.108)</text>
<text x="751.84" y="748" text-anchor="start" font-size="13" textLength="91.27" lengthAdjust="spacing">[-0.057,-0.0484)</text>
<text x="859.18" y="748" text-anchor="start" font-size="13" textLength="97.84" lengthAdjust="spacing">[0.00295,0.0115)</text>
<text x="971.66" y="748" text-anchor="start" font-size="13" textLength="91.58" lengthAdjust="spacing">[0.0629,0.0714)</text>
<text x="1088.64" y="748" text-anchor="start" font-size="13" textLength="77.12" lengthAdjust="spacing">[0.123,0.131)</text>
<text x="897.17" y="780" text-anchor="start" font-size="13" textLength="33.77" lengthAdjust="spacing">return</text>
<text x="615" y="592.7" text-anchor="middle" font-size="14.8" transform="rotate(-90 615 592.7)" textLength="57.09" lengthAdjust="spacingAndGlyphs">frequency</text>
<rect x="993.5" y="465.5" width="173" height="48" fill="#fff" stroke="#000"/>
<rect x="1005.5" y="477.5" width="9" height="8" fill="#0000FF" stroke="#000"/>
<rect x="1005.5" y="493.5" width="9" height="8" fill="#FFFF00" stroke="#000"/>
<text x="1025.4" y="487" text-anchor="start" font-size="13" textLength="126.0" lengthAdjust="spacing">DMA return frequency</text>
<text x="1025.9" y="503" text-anchor="start" font-size="13" textLength="133.62" lengthAdjust="spacing">GSPC return frequency</text>
</g>
</svg>
</body></html>
